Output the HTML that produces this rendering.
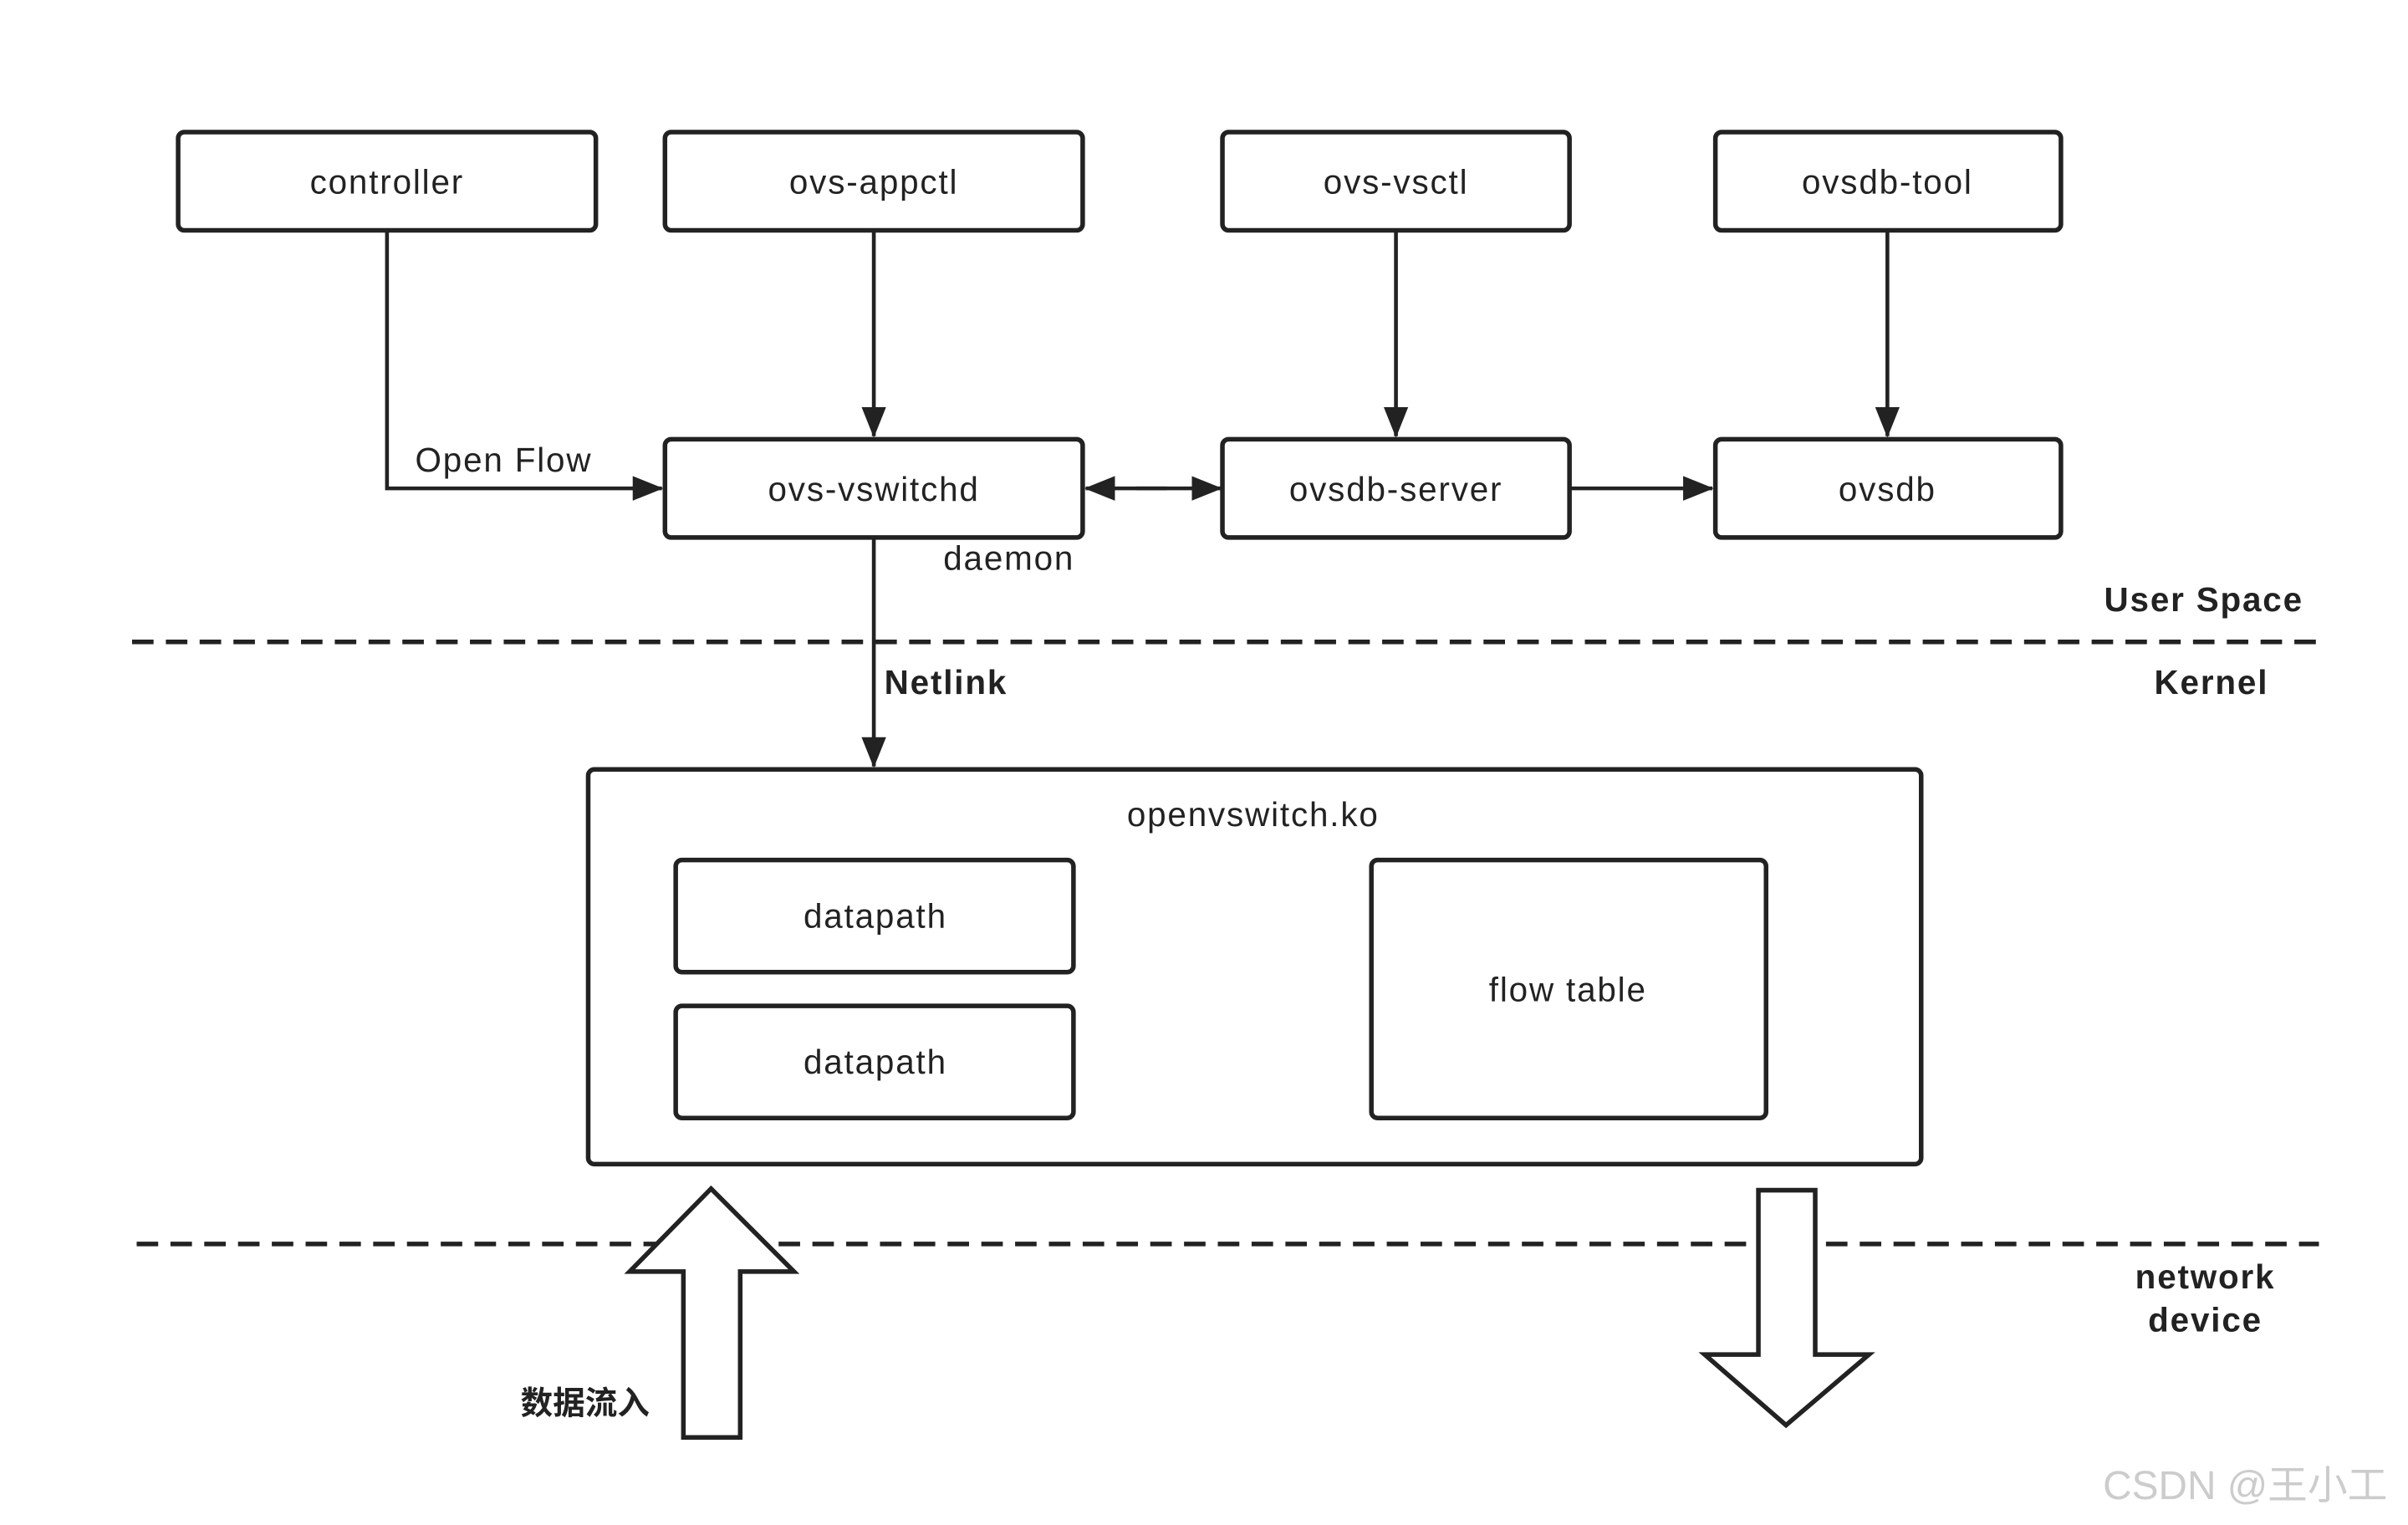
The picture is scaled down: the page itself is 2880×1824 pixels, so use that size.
<!DOCTYPE html>
<html><head><meta charset="utf-8"><style>html,body{margin:0;padding:0;background:#fff}svg{display:block}</style></head>
<body>
<svg width="2880" height="1824" viewBox="0 0 1568 993" preserveAspectRatio="none" xmlns="http://www.w3.org/2000/svg">
<defs><marker id="a" markerWidth="20" markerHeight="20" refX="19" refY="10" orient="auto" markerUnits="userSpaceOnUse" viewBox="0 0 20 20"><path d="M0,2 L20,10 L0,18z" fill="#222"/></marker></defs>
<g font-family="Liberation Sans, DejaVu Sans, sans-serif" font-size="22" fill="#222" text-anchor="middle" letter-spacing="1">
<g fill="none" stroke="#222" stroke-width="3">
<rect x="116" y="86" width="272" height="64" rx="4"/>
<rect x="433" y="86" width="272" height="64" rx="4"/>
<rect x="796" y="86" width="226" height="64" rx="4"/>
<rect x="1117" y="86" width="225" height="64" rx="4"/>
<rect x="433" y="286" width="272" height="64" rx="4"/>
<rect x="796" y="286" width="226" height="64" rx="4"/>
<rect x="1117" y="286" width="225" height="64" rx="4"/>
<rect x="383" y="501" width="868" height="257" rx="4"/>
<rect x="440" y="560" width="259" height="73" rx="4"/>
<rect x="440" y="655" width="259" height="73" rx="4"/>
<rect x="893" y="560" width="257" height="168" rx="4"/>
</g>
<g stroke="#222" stroke-width="2.5" fill="none">
<path d="M569 150 V284" marker-end="url(#a)"/>
<path d="M909 150 V284" marker-end="url(#a)"/>
<path d="M1229 150 V284" marker-end="url(#a)"/>
<path d="M252 150 V318 H431" marker-end="url(#a)"/>
<path d="M1022 318 H1115" marker-end="url(#a)"/>
<path d="M740 318 H795" marker-end="url(#a)"/>
<path d="M760 318 H707" marker-end="url(#a)"/>
<path d="M569 350 V499" marker-end="url(#a)"/>
</g>
<g stroke="#222" stroke-width="3" stroke-dasharray="14 8">
<line x1="86" y1="418" x2="1508" y2="418"/>
<line x1="89" y1="810" x2="1510" y2="810"/>
</g>
<g fill="#fff" stroke="#222" stroke-width="3" stroke-linejoin="miter">
<path d="M463 774 L517 828 L482 828 L482 936 L445 936 L445 828 L410 828 Z"/>
<path d="M1145 775 L1182 775 L1182 882 L1217 882 L1163 928 L1110 882 L1145 882 Z"/>
</g>
<text x="252" y="126">controller</text>
<text x="569" y="126">ovs-appctl</text>
<text x="909" y="126">ovs-vsctl</text>
<text x="1229" y="126">ovsdb-tool</text>
<text x="569" y="326">ovs-vswitchd</text>
<text x="909" y="326">ovsdb-server</text>
<text x="1229" y="326">ovsdb</text>
<text x="328" y="307">Open Flow</text>
<text x="657" y="371">daemon</text>
<text x="816" y="538">openvswitch.ko</text>
<text x="570" y="604">datapath</text>
<text x="570" y="699">datapath</text>
<text x="1021" y="652">flow table</text>
<g font-weight="bold">
<text x="1435" y="398">User Space</text>
<text x="1440" y="452">Kernel</text>
<text x="616" y="452">Netlink</text>
<text x="1436" y="839">network</text>
<text x="1436" y="867">device</text>
<text x="381" y="921" font-family="Liberation Sans, Noto Sans CJK SC, sans-serif" font-size="21" letter-spacing="0">数据流入</text>
</g>
<text x="1462" y="976" font-size="26" fill="#ccc" letter-spacing="0" font-family="Liberation Sans, Noto Sans CJK SC, sans-serif">CSDN @王小工</text>
</g>
</svg>
</body></html>
